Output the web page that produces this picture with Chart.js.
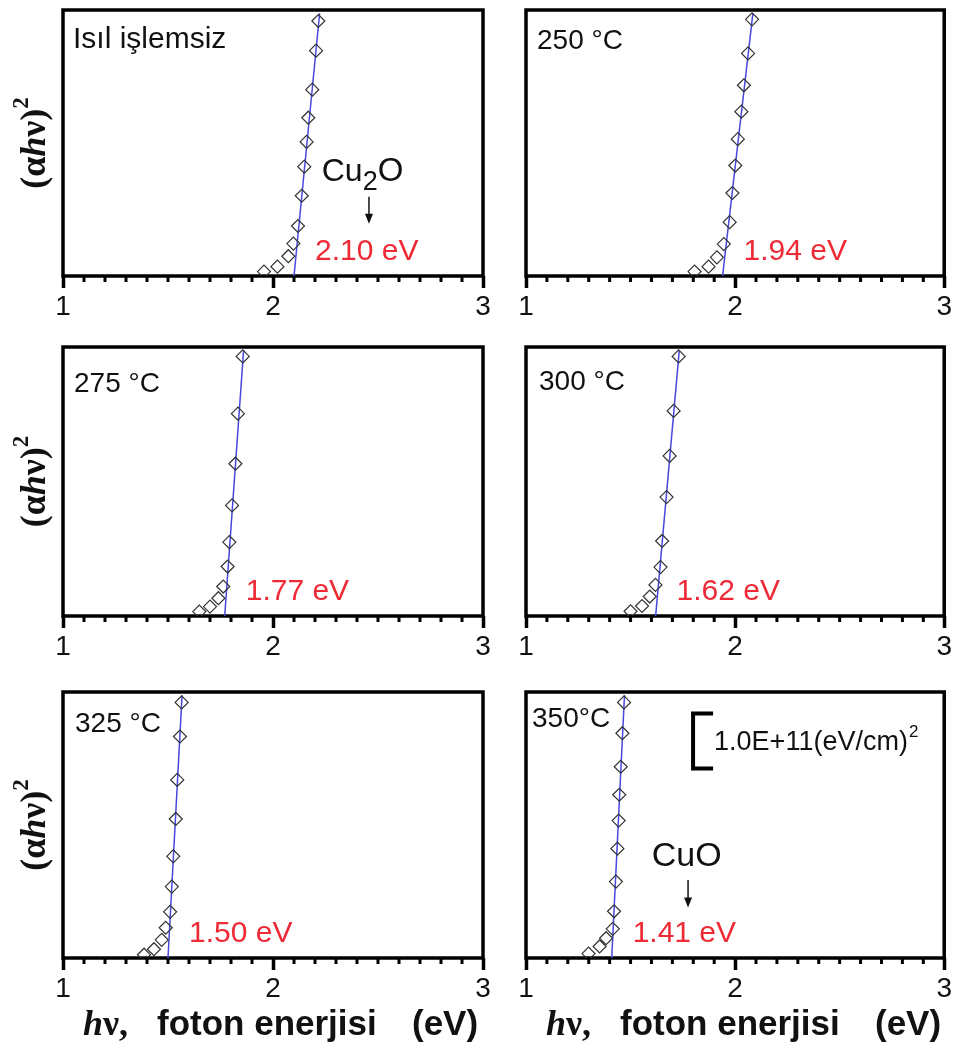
<!DOCTYPE html>
<html>
<head>
<meta charset="utf-8">
<script src="https://cdn.jsdelivr.net/npm/chart.js@4"></script>
<style>
  body { margin: 0; background: #fff; }
  #wrap { position: relative; width: 954px; height: 1048px; overflow: hidden; }
  canvas { position: absolute; }
</style>
</head>
<body>
<div id="wrap"></div>
<script>
// panel names and band gaps (eV)
var panelTitles = ["Isıl işlemsiz", "250 °C", "275 °C", "300 °C", "325 °C", "350°C"];
var bandGaps = [2.10, 1.94, 1.77, 1.62, 1.50, 1.41];

// photon energy hv (eV) and (alpha h nu)^2 in units of 1.0E+11 (eV/cm)^2
var hvRaw = [1.957, 2.021, 2.073, 2.097, 2.119, 2.137, 2.149, 2.160, 2.168, 2.187, 2.205, 2.216];
var ahvRaw = [0.08, 0.17, 0.36, 0.59, 0.91, 1.46, 1.99, 2.44, 2.88, 3.39, 4.10, 4.64];
var hv250 = [1.806, 1.873, 1.913, 1.946, 1.974, 1.987, 2.001, 2.013, 2.030, 2.042, 2.062, 2.081];
var ahv250 = [0.08, 0.17, 0.34, 0.58, 0.98, 1.51, 2.01, 2.49, 2.99, 3.47, 4.05, 4.67];
var hv275 = [1.649, 1.700, 1.740, 1.763, 1.784, 1.792, 1.805, 1.821, 1.833, 1.856];
var ahv275 = [0.08, 0.17, 0.32, 0.53, 0.89, 1.33, 1.99, 2.74, 3.64, 4.67];
var hv300 = [1.500, 1.555, 1.592, 1.619, 1.643, 1.651, 1.672, 1.687, 1.706, 1.730];
var ahv300 = [0.085, 0.18, 0.35, 0.56, 0.88, 1.35, 2.14, 2.88, 3.69, 4.67];
var hv325 = [1.386, 1.433, 1.470, 1.489, 1.510, 1.518, 1.525, 1.537, 1.544, 1.557, 1.565];
var ahv325 = [0.06, 0.16, 0.33, 0.55, 0.84, 1.30, 1.85, 2.53, 3.24, 4.03, 4.65];
var hv350 = [1.299, 1.352, 1.383, 1.415, 1.421, 1.430, 1.437, 1.443, 1.446, 1.453, 1.461, 1.469];
var ahv350 = [0.08, 0.21, 0.36, 0.53, 0.85, 1.39, 1.99, 2.50, 2.97, 3.48, 4.09, 4.65];

// upper end of each linear fit
var fitTopHv = [2.222, 2.085, 1.860, 1.733, 1.567, 1.471];
var fitTopY = [4.78, 4.78, 4.78, 4.78, 4.78, 4.78];

var xTicksMajor = [1, 2, 3];
var scaleBarValue = 1.0; // 1.0E+11 (eV/cm)^2

var Y_MAX = 4.84;
var SANS = "'Liberation Sans', Arial, sans-serif";
var SERIF = "'Liberation Serif', 'Times New Roman', serif";

var hvSets = [hvRaw, hv250, hv275, hv300, hv325, hv350];
var ahvSets = [ahvRaw, ahv250, ahv275, ahv300, ahv325, ahv350];

function isMajor(v) {
  return xTicksMajor.some(function (m) { return Math.abs(v - m) < 1e-6; });
}

// title offsets from the top-left corner of each plot box
var titleOffset = [[10, 38], [11, 39], [11, 45], [13, 43], [12, 40], [6, 35]];

function arrowDown(c, x, y1, y2) {
  c.beginPath(); c.moveTo(x, y1); c.lineTo(x, y2 - 8); c.lineWidth = 1.5; c.stroke();
  c.beginPath(); c.moveTo(x - 4, y2 - 10); c.lineTo(x + 4, y2 - 10); c.lineTo(x, y2); c.closePath(); c.fill();
}

var panelDeco = {
  id: 'panelDeco',
  beforeDatasetsDraw: function (chart) {
    var a = chart.chartArea, c = chart.ctx, xs = chart.scales.x;
    c.save();
    c.strokeStyle = '#000';
    c.lineWidth = 3.5;
    c.strokeRect(a.left, a.top, a.right - a.left, a.bottom - a.top);
    c.lineWidth = 3;
    xs.ticks.forEach(function (t) {
      if (isMajor(t.value)) return;
      var px = xs.getPixelForValue(t.value);
      c.beginPath(); c.moveTo(px, a.bottom); c.lineTo(px, a.bottom + 6); c.stroke();
    });
    c.restore();
  },
  afterDraw: function (chart, args, opts) {
    var i = opts.index, a = chart.chartArea, c = chart.ctx;
    var xs = chart.scales.x, ys = chart.scales.y;
    c.save();
    c.fillStyle = '#111';
    c.strokeStyle = '#111';
    c.textBaseline = 'alphabetic';
    c.textAlign = 'left';

    // panel title
    c.font = (i === 0 ? '30px ' : '28px ') + SANS;
    c.fillText(panelTitles[i], a.left + titleOffset[i][0], a.top + titleOffset[i][1]);

    // band gap value
    c.fillStyle = '#ee2a36';
    c.font = '30px ' + SANS;
    c.fillText(bandGaps[i].toFixed(2) + ' eV', xs.getPixelForValue(bandGaps[i] + 0.1), ys.getPixelForValue(0.29));
    c.fillStyle = '#111';

    if (i === 0) {
      var x0 = xs.getPixelForValue(2.232), y0 = ys.getPixelForValue(1.73);
      c.font = '32px ' + SANS; c.fillText('Cu', x0, y0);
      var w = c.measureText('Cu').width;
      c.font = '27px ' + SANS; c.fillText('2', x0 + w, y0 + 9);
      var w2 = c.measureText('2').width;
      c.font = '33px ' + SANS; c.fillText('O', x0 + w + w2, y0);
      arrowDown(c, xs.getPixelForValue(2.457), ys.getPixelForValue(1.44), ys.getPixelForValue(0.95));
    }
    if (i === 5) {
      c.font = '34px ' + SANS;
      c.fillText('CuO', xs.getPixelForValue(1.601), ys.getPixelForValue(1.67));
      arrowDown(c, xs.getPixelForValue(1.775), ys.getPixelForValue(1.42), ys.getPixelForValue(0.92));
      // scale bar
      var bx = xs.getPixelForValue(1.799), bt = ys.getPixelForValue(4.45), bb = ys.getPixelForValue(4.45 - scaleBarValue);
      c.lineWidth = 4; c.strokeStyle = '#000';
      c.beginPath(); c.moveTo(bx + 20, bt); c.lineTo(bx, bt); c.lineTo(bx, bb); c.lineTo(bx + 20, bb); c.stroke();
      c.font = '27px ' + SANS;
      var txt = scaleBarValue.toFixed(1) + 'E+11(eV/cm)';
      var ty = (bt + bb) / 2 + 9;
      c.fillText(txt, bx + 21, ty);
      var tw = c.measureText(txt).width;
      c.font = '17px ' + SANS;
      c.fillText('2', bx + 22 + tw, ty - 13);
    }

    // y axis title on the left column
    if (i % 2 === 0) {
      c.save();
      c.translate(45, (a.top + a.bottom) / 2);
      c.rotate(-Math.PI / 2);
      var parts = [
        ['(\u03b1', 'bold 36px ' + SERIF, 0],
        ['h', 'italic bold 36px ' + SERIF, 0],
        ['\u03bd)', 'bold 36px ' + SERIF, 0],
        ['2', 'bold 23px ' + SERIF, -17]
      ];
      var total = 0;
      parts.forEach(function (p) { c.font = p[1]; total += c.measureText(p[0]).width; });
      var px = -total / 2;
      parts.forEach(function (p) { c.font = p[1]; c.fillText(p[0], px, p[2]); px += c.measureText(p[0]).width; });
      c.restore();
    }

    // x axis title on the bottom row
    if (i >= 4) {
      var by = a.bottom + 77;
      c.font = 'italic bold 36px ' + SERIF;
      c.fillText('h', a.left + 20, by);
      var hw = c.measureText('h').width;
      c.font = 'bold 36px ' + SERIF;
      c.fillText('\u03bd,', a.left + 20 + hw, by);
      c.font = 'bold 35px ' + SANS;
      c.fillText('foton enerjisi', a.left + 94, by);
      c.fillText('(eV)', a.left + 349, by);
    }
    c.restore();
  }
};

var cols = [{ left: 0, width: 500, padL: 63, padR: 17 }, { left: 500, width: 454, padL: 26, padR: 9 }];
var rows = [{ top: 0, padT: 10, plot: 266, padB: 0 }, { top: 330, padT: 17, plot: 269, padB: 0 }, { top: 660, padT: 32, plot: 266, padB: 46 }];

function makePanel(i) {
  var col = cols[i % 2], row = rows[Math.floor(i / 2)];
  var h = row.padT + row.plot + 44 + row.padB;
  var cv = document.createElement('canvas');
  cv.width = col.width; cv.height = h;
  cv.style.left = col.left + 'px'; cv.style.top = row.top + 'px';
  cv.style.width = col.width + 'px'; cv.style.height = h + 'px';
  document.getElementById('wrap').appendChild(cv);

  var pts = hvSets[i].map(function (x, k) { return { x: x, y: ahvSets[i][k] }; });

  new Chart(cv, {
    type: 'scatter',
    data: {
      datasets: [
        {
          data: pts,
          pointStyle: 'rectRot',
          pointRadius: 6.5,
          pointBorderWidth: 1.2,
          pointBorderColor: '#333',
          pointBackgroundColor: 'rgba(0,0,0,0)',
          showLine: false
        },
        {
          data: [{ x: bandGaps[i], y: 0 }, { x: fitTopHv[i], y: fitTopY[i] }],
          showLine: true,
          borderColor: '#4848dc',
          borderWidth: 1.5,
          pointRadius: 0
        }
      ]
    },
    options: {
      responsive: false,
      animation: false,
      devicePixelRatio: 1,
      layout: { padding: { left: col.padL, right: col.padR, top: row.padT, bottom: row.padB } },
      plugins: { legend: { display: false }, tooltip: { enabled: false }, panelDeco: { index: i } },
      scales: {
        x: {
          type: 'linear', min: 1, max: 3,
          afterFit: function (s) { s.height = 44; },
          border: { display: false },
          grid: {
            drawOnChartArea: false, drawTicks: true, tickLength: 12, tickWidth: 3.5,
            tickColor: function (ctx) { return ctx.tick && isMajor(ctx.tick.value) ? '#000' : 'rgba(0,0,0,0)'; }
          },
          ticks: {
            stepSize: 0.1, autoSkip: false, maxRotation: 0, padding: 2, color: '#111',
            font: { family: SANS, size: 28 },
            callback: function (v) { return isMajor(v) ? String(Math.round(v)) : ''; }
          }
        },
        y: { display: false, min: 0, max: Y_MAX }
      }
    },
    plugins: [panelDeco]
  });
}

for (var i = 0; i < 6; i++) makePanel(i);
</script>
</body>
</html>
